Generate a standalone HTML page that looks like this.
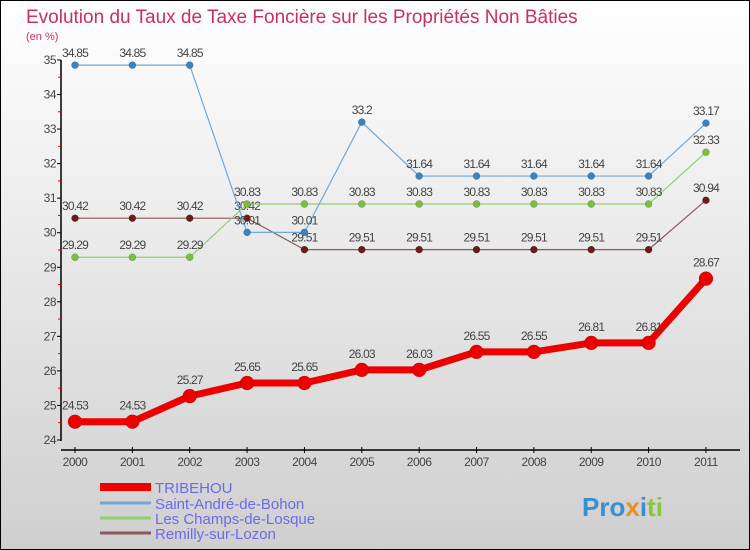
<!DOCTYPE html>
<html><head><meta charset="utf-8"><style>
body{margin:0}
svg{display:block;font-family:"Liberation Sans",sans-serif}
</style></head><body>
<svg width="750" height="550" viewBox="0 0 750 550">
<defs><linearGradient id="bg" x1="0" y1="0" x2="0" y2="1"><stop offset="0" stop-color="#ffffff"/><stop offset="1" stop-color="#cfcfcf"/></linearGradient></defs>
<rect x="0.5" y="0.5" width="749" height="549" fill="url(#bg)" stroke="#000"/>
<text x="26" y="23" font-size="19" fill="#c8305e">Evolution du Taux de Taxe Foncière sur les Propriétés Non Bâties</text>
<text x="26" y="40" font-size="11" fill="#c8305e">(en %)</text>
<g id="axes"></g>
<g id="series"></g>
<g id="legend"></g>
<text x="582" y="516" font-size="26" font-weight="bold"><tspan fill="#3a8fd0">Pro</tspan><tspan fill="#e89020">x</tspan><tspan fill="#3a8fd0">i</tspan><tspan fill="#8cc43c">ti</tspan></text>
</svg>
<script>
const years=[2000,2001,2002,2003,2004,2005,2006,2007,2008,2009,2010,2011];
const tribehou=[24.53,24.53,25.27,25.65,25.65,26.03,26.03,26.55,26.55,26.81,26.81,28.67];
const saintAndre=[34.85,34.85,34.85,30.01,30.01,33.2,31.64,31.64,31.64,31.64,31.64,33.17];
const champs=[29.29,29.29,29.29,30.83,30.83,30.83,30.83,30.83,30.83,30.83,30.83,32.33];
const remilly=[30.42,30.42,30.42,30.42,29.51,29.51,29.51,29.51,29.51,29.51,29.51,30.94];
const yTicks=[24,25,26,27,28,29,30,31,32,33,34,35];
const NS="http://www.w3.org/2000/svg";
function xS(i){return 75+i*57.36;}
function yS(v){return 440-(v-24)*34.55;}
function mk(tag,attrs,parent){const e=document.createElementNS(NS,tag);for(const k in attrs)e.setAttribute(k,attrs[k]);parent.appendChild(e);return e;}
const axes=document.getElementById('axes');
let a=mk('line',{x1:61,y1:yS(35),x2:61,y2:441,stroke:'#000','stroke-width':1.5},axes);


yTicks.forEach(t=>{
  const l=mk('line',{x1:57,x2:61,y1:yS(t),y2:yS(t),stroke:'#000'},axes);
  
  
  if(t<35){const h=mk('line',{x1:58,x2:61,y1:yS(t+0.5),y2:yS(t+0.5),stroke:'#e00'},axes);
  
  }
  const tx=mk('text',{x:56,y:yS(t)+4,'text-anchor':'end','font-size':12,fill:'#444','letter-spacing':'-0.5'},axes);
  tx.textContent=t;
  
  
});
a=mk('line',{x1:61,y1:450,x2:740,y2:450,stroke:'#000','stroke-width':1.5},axes);


years.forEach((y,i)=>{
  const l=mk('line',{x1:xS(i),x2:xS(i),y1:447,y2:453,stroke:'#000'},axes);
  
  
  const tx=mk('text',{x:xS(i),y:466,'text-anchor':'middle','font-size':12,fill:'#444','letter-spacing':'-0.5'},axes);
  tx.textContent=y;
  
  
});
const ser=document.getElementById('series');
function draw(vals,name,color,dot,w,r,labelDy){
  const g=mk('g',{},ser);
  
  
  const p=mk('polyline',{points:vals.map((v,i)=>xS(i)+','+yS(v)).join(' '),fill:'none',stroke:color,'stroke-width':w,'stroke-linejoin':'round'},g);
  
  
  vals.forEach((v,i)=>{
    const c=mk('circle',{cx:xS(i),cy:yS(v),r:r,fill:dot,stroke:'rgba(0,0,0,0.3)','stroke-width':0.5},g);
    
    
    const t=mk('text',{x:xS(i),y:yS(v)+labelDy,'text-anchor':'middle','font-size':12,fill:'#444','letter-spacing':'-0.8'},g);
    t.textContent=v;
    
    
  });
}
draw(remilly,'remilly','#8a5a5a','#6a1c1c',1.2,3.5,-8);
draw(champs,'champs','#90d070','#78c040',1.2,3.5,-8);
draw(saintAndre,'saint-andre','#6fa8d8','#3a82c0',1.2,3.5,-8);
draw(tribehou,'tribehou','#ee0000','#ee0000',7,7,-12);
const leg=document.getElementById('legend');
const items=[['TRIBEHOU','#ee0000',8],['Saint-André-de-Bohon','#6fa8d8',3],['Les Champs-de-Losque','#90d070',3],['Remilly-sur-Lozon','#8a5a5a',3]];
const ly=[492,508,523,538];
items.forEach((it,i)=>{
  const g=mk('g',{},leg);
  
  
  mk('line',{x1:100,x2:151,y1:ly[i]-5,y2:ly[i]-5,stroke:it[1],'stroke-width':it[2]},g);
  const t=mk('text',{x:155,y:ly[i]+1,'font-size':15,fill:'#6a6af0'},g);
  t.textContent=it[0];
});
</script>
</body></html>
